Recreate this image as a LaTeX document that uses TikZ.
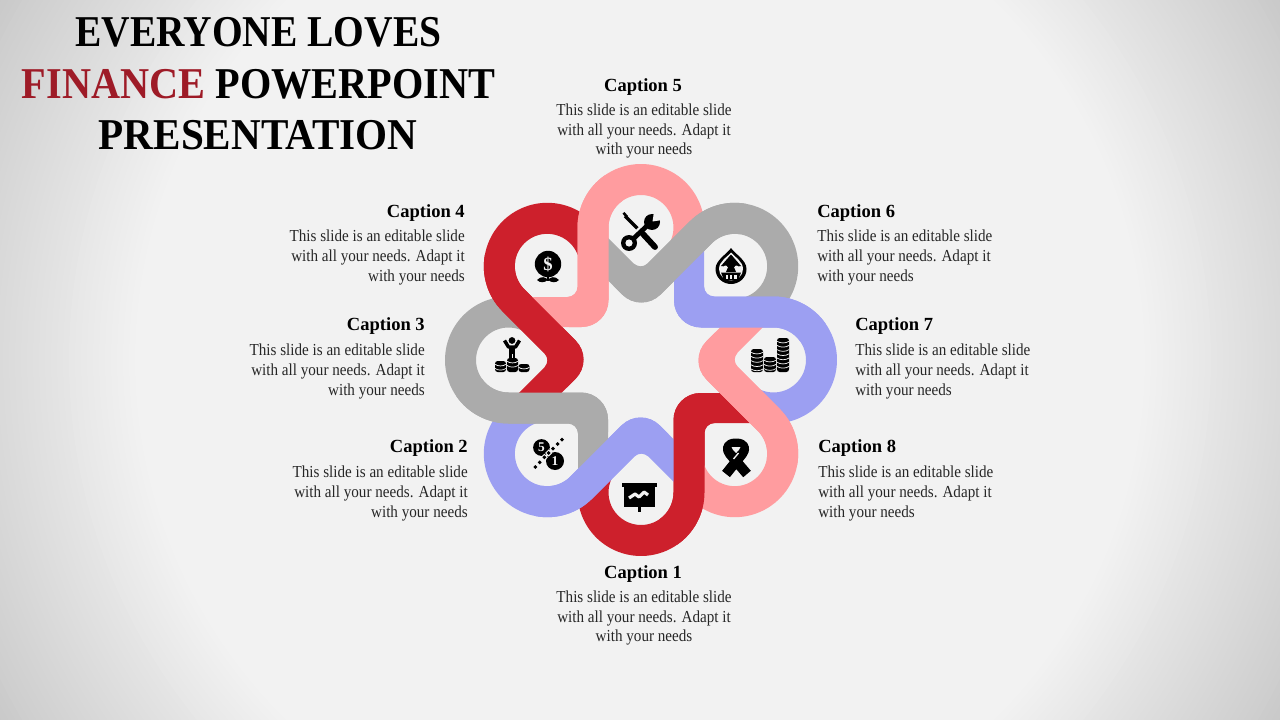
\documentclass[tikz,border=0pt]{standalone}
\usepackage{fontspec}
\setmainfont{Liberation Serif}
\newfontfamily\bodyfam[FakeStretch=0.90]{Liberation Serif}
\newfontfamily\titlefam[FakeStretch=0.915]{Liberation Serif}
\usetikzlibrary{calc}
\definecolor{bgl}{HTML}{F2F2F2}
\definecolor{cred}{HTML}{CD202C}
\definecolor{cpink}{HTML}{FF9C9F}
\definecolor{cgray}{HTML}{ABABAB}
\definecolor{cblue}{HTML}{9C9FF2}
\definecolor{ttl}{HTML}{9E1B27}
\definecolor{bodyc}{HTML}{262626}
\tikzset{
  capt/.style={font=\fontsize{13.9pt}{16pt}\selectfont\bfseries, text=black, inner sep=0pt},
  bodytxt/.style={font=\bodyfam\fontsize{12.6pt}{14.7pt}\selectfont, text=bodyc, inner sep=0pt},
  titletxt/.style={font=\titlefam\fontsize{33pt}{38pt}\selectfont\bfseries, text=black, inner sep=0pt},
  ico/.style={fill=black, draw=none},
  gap/.style={fill=bgl, draw=none}
}
% one strand, local frame y up; loop centre (132.5,0)
\newcommand{\fullstrand}{(33,100) -- (33,59.5) arc[start angle=180,end angle=270,radius=27] -- (132.5,32.5)
  arc[start angle=90,end angle=-115,radius=32.5] -- ($(132.5,0)+(-115:63.5)$)
  arc[start angle=-115,end angle=90,radius=63.5] -- (73,63.5)
  arc[start angle=270,end angle=180,radius=10] -- (63,130) -- cycle}
\newcommand{\midstrand}{(33,72) -- (33,59.5) arc[start angle=180,end angle=270,radius=27] -- (132.5,32.5)
  arc[start angle=90,end angle=35,radius=32.5] -- ($(132.5,0)+(35:63.5)$)
  arc[start angle=35,end angle=90,radius=63.5] -- (73,63.5) arc[start angle=270,end angle=180,radius=10] -- (63,72) -- cycle}
\newcommand{\coinstack}[4]{% cx, ytop, ybot, rx
  \fill[ico,rounded corners=2pt] ({#1-#4},#2) rectangle ({#1+#4},#3);
  \pgfmathsetmacro{\ystart}{#2+4.2}
  \pgfmathsetmacro{\ysec}{#2+8.4}
  \foreach \yy in {\ystart,\ysec,...,#3}{
    \pgfmathparse{\yy<(#3-1.5)?1:0}
    \ifnum\pgfmathresult=1
      \draw[bgl,line width=0.55pt] ({#1-#4},\yy-1) .. controls ({#1-0.5*#4},\yy+1.3) and ({#1+0.5*#4},\yy+1.3) .. ({#1+#4},\yy-1);
    \fi
  }
}
\begin{document}
\begin{tikzpicture}[x=0.75pt,y=-0.75pt]
\useasboundingbox (0,0) rectangle (1280,720);
\begin{scope}
  \clip (0,0) rectangle (1280,720);
  \fill[black!22] (0,0) rectangle (1280,720);
  \foreach \i in {0,1,...,40}{
    \pgfmathsetmacro{\rr}{745-6*\i}
    \pgfmathsetmacro{\pp}{21.5-0.41*\i}
    \fill[black!\pp] (640,360) circle[radius=\rr];
  }
\end{scope}
% strands
\foreach \ang/\col in {270/cred,225/cblue,180/cgray,135/cred,90/cpink,45/cgray,0/cblue,315/cpink}{
  \begin{scope}[shift={(641,360)},rotate=\ang,y=0.75pt]
    \fill[\col] \fullstrand;
  \end{scope}
}
\foreach \ang/\col in {270/cred,225/cblue,180/cgray,135/cred,90/cpink,45/cgray,0/cblue,315/cpink}{
  \begin{scope}[shift={(641,360)},rotate=\ang,y=0.75pt]
    \fill[\col] \midstrand;
  \end{scope}
}
% title
\node[titletxt] (t1) at (258.5,32) {\scalebox{0.98}[1]{EVERYONE LOVES}};
\node[titletxt] (t2) at (258.5,84) {\textcolor{ttl}{FINANCE} POWERPOINT};
\node[titletxt] (t3) at (258,135) {\scalebox{1.022}[1]{PRESENTATION}};
% captions
\node[capt] (c5) at (643,87.5) {Caption 5};
\node[bodytxt,align=center] (b5) at (644,131) {This slide is an editable slide\\with all your needs. Adapt it\\with your needs};
\node[capt] (c1) at (643,574.5) {Caption 1};
\node[bodytxt,align=center] (b1) at (644,618) {This slide is an editable slide\\with all your needs. Adapt it\\with your needs};
\node[capt,anchor=east] (c4) at (465,213.5) {Caption 4};
\node[bodytxt,align=right,anchor=east] (b4) at (465,257.5) {This slide is an editable slide\\with all your needs. Adapt it\\with your needs};
\node[capt,anchor=east] (c3) at (425,326.5) {Caption 3};
\node[bodytxt,align=right,anchor=east] (b3) at (425,371.5) {This slide is an editable slide\\with all your needs. Adapt it\\with your needs};
\node[capt,anchor=east] (c2) at (468,448.5) {Caption 2};
\node[bodytxt,align=right,anchor=east] (b2) at (468,493.5) {This slide is an editable slide\\with all your needs. Adapt it\\with your needs};
\node[capt,anchor=west] (c6) at (817,213.5) {Caption 6};
\node[bodytxt,align=left,anchor=west] (b6) at (817,257.5) {This slide is an editable slide\\with all your needs. Adapt it\\with your needs};
\node[capt,anchor=west] (c7) at (855,326.5) {Caption 7};
\node[bodytxt,align=left,anchor=west] (b7) at (855,371.5) {This slide is an editable slide\\with all your needs. Adapt it\\with your needs};
\node[capt,anchor=west] (c8) at (818,448.5) {Caption 8};
\node[bodytxt,align=left,anchor=west] (b8) at (818,493.5) {This slide is an editable slide\\with all your needs. Adapt it\\with your needs};
% icon 4: dollar plant
\fill[ico] (548,264) circle[radius=13.2];
\node[font=\fontsize{14pt}{14pt}\selectfont\bfseries,text=bgl,inner sep=0pt] (d4) at (548,264) {\$};
\fill[ico] (546.8,276) rectangle (549.2,281);
\fill[ico] (537,280) .. controls (541,275.5) and (546,277) .. (548,280) .. controls (544,283) and (540,283) .. (537,280) -- cycle;
\fill[ico] (559,280) .. controls (555,275.5) and (550,277) .. (548,280) .. controls (552,283) and (556,283) .. (559,280) -- cycle;
% icon 5: tools
\draw[black,line width=2.4pt] (625,216) -- (641,232);
\fill[ico] (622.5,213.5) -- (624.5,212) -- (628,216) -- (626,218) -- cycle;
\draw[bgl,line width=7pt] (636,236) -- (646,227);
\draw[black,line width=3.6pt] (632,240) -- (649,224);
\draw[black,line width=4.4pt,line cap=round] (643,234) -- (655,247);
\fill[ico] (652,222) circle[radius=8];
\fill[gap] (652.5,221.5) -- (654,212) -- (662,212) -- (662,220) -- cycle;
\fill[ico] (629,243) circle[radius=8];
\fill[gap] (629,243) circle[radius=3.6];
% icon 6: drop
\fill[ico] (731,248) .. controls (735,254) and (746.5,260) .. (746.5,269) .. controls (746.5,278) and (739,284) .. (731,284) .. controls (723,284) and (715.5,278) .. (715.5,269) .. controls (715.5,260) and (727,254) .. (731,248) -- cycle;
\fill[gap] (731,252.5) .. controls (734,256.5) and (743,261) .. (743,269) .. controls (743,276) and (737,280.5) .. (731,280.5) .. controls (725,280.5) and (719,276) .. (719,269) .. controls (719,261) and (728,256.5) .. (731,252.5) -- cycle;
\fill[ico] (731,254.5) -- (741,266) -- (734,267) -- (736,272) -- (726,272) -- (728,267) -- (721,266) -- cycle;
\fill[gap] (725.5,267.5) circle[radius=2];
\fill[gap] (736.5,267.5) circle[radius=2];
\fill[ico] (721,272.5) -- (741,272.5) -- (738,280) -- (724,280) -- cycle;
\foreach \tx in {725.5,729.8,734.2}{\fill[gap] (\tx,274.5) rectangle (\tx+2.3,279);}
% icon 7: coins
\coinstack{757}{349}{372}{6}
\coinstack{770}{357}{372}{6}
\coinstack{783}{338}{372}{6}
% icon 8: ribbon
\draw[black,line width=7.5pt,line join=round] (726,474) -- (742,454) .. controls (746,449) and (745,443.5) .. (736,443.5) .. controls (727,443.5) and (726,449) .. (730,454) -- (747,474);
\fill[gap] (731.5,447) .. controls (733,453) and (739,453) .. (740.5,447) -- cycle;
\draw[bgl,line width=1pt] (738.5,453) -- (733.5,459);
% icon 1: board
\fill[ico] (622,483) rectangle (657,486.5);
\fill[ico] (624,486) rectangle (655,507);
\fill[ico] (638,507) rectangle (640.5,512);
\draw[bgl,line width=2.4pt,line join=round] (629,498) -- (635,494) -- (639,497) -- (644,492) -- (648,495);
% icon 2: 5 slash 1
\fill[ico] (541.5,447.5) circle[radius=8.4];
\fill[ico] (555,461) circle[radius=9];
\node[font=\fontsize{10pt}{10pt}\selectfont\bfseries,text=bgl,inner sep=0pt] (n5) at (541.5,447.5) {5};
\node[font=\fontsize{10pt}{10pt}\selectfont\bfseries,text=bgl,inner sep=0pt] (n1) at (555,461) {1};
\foreach \px/\py in {544.3/457.3,548.7/453,553/448.7}{\fill[gap] (\px-3.6,\py) -- (\px,\py-3.6) -- (\px+3.6,\py) -- (\px,\py+3.6) -- cycle;}
\foreach \px/\py in {535.3/467,539.7/462.3,544.3/457.3,548.7/453,553/448.7,557.7/444,562/439.7}{\fill[ico] (\px-2,\py) -- (\px,\py-2) -- (\px+2,\py) -- (\px,\py+2) -- cycle;}
% icon 3: person on coins
\fill[ico] (512,340.5) circle[radius=3.4];
\draw[black,line width=2.6pt,line join=round] (504.5,340.5) -- (508.5,347) -- (515.5,347) -- (519.5,340.5);
\fill[ico] (509,346) rectangle (515,354);
\fill[ico] (509,353) rectangle (511.5,358);
\fill[ico] (512.5,353) rectangle (515,358);
\coinstack{500.5}{361}{372}{5.5}
\coinstack{512.5}{358}{372}{5.5}
\coinstack{524}{364}{372}{5.5}
\end{tikzpicture}
\end{document}
